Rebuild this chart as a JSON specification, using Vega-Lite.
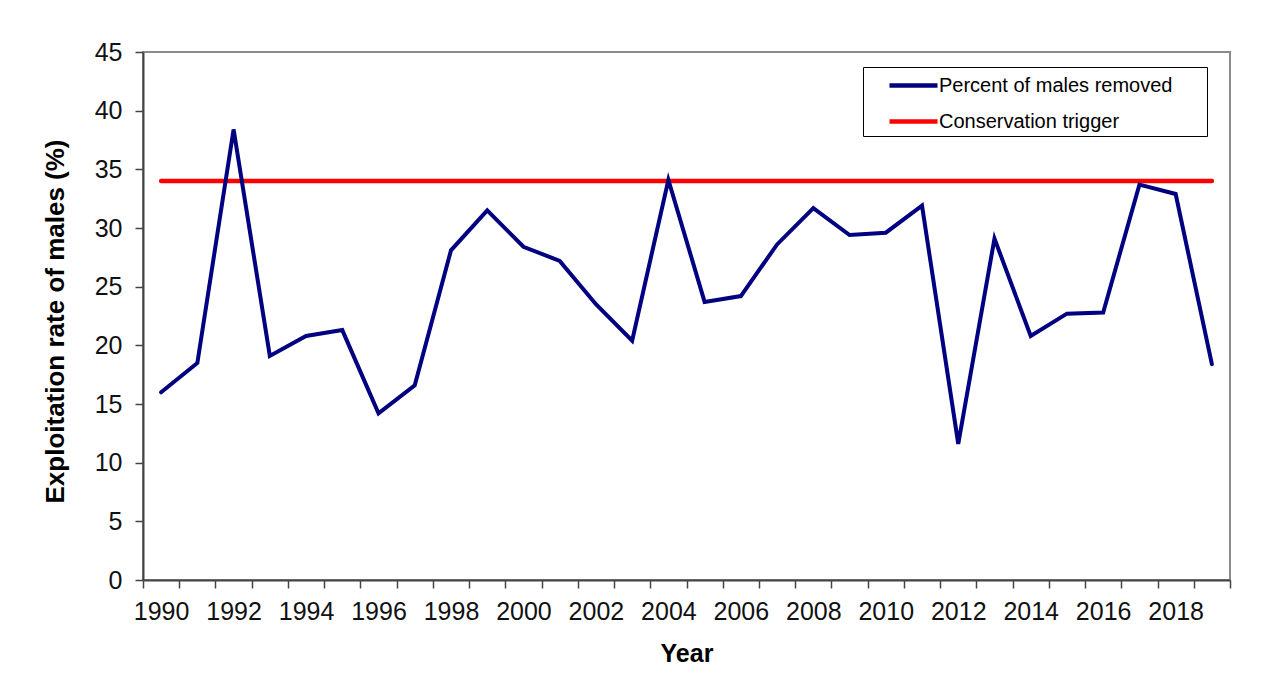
{
  "$schema": "https://vega.github.io/schema/vega-lite/v6.json",
  "width": 1087,
  "height": 528,
  "autosize": {"type": "none"},
  "padding": {"left": 143, "top": 52, "right": 44, "bottom": 107},
  "background": "white",
  "config": {
    "font": "Liberation Sans",
    "view": {"stroke": "#8c8c8c", "strokeWidth": 2}
  },
  "datasets": {
    "removed": [
      {"year": "1990", "series": "Percent of males removed", "rate": 16.0},
      {"year": "1991", "series": "Percent of males removed", "rate": 18.5},
      {"year": "1992", "series": "Percent of males removed", "rate": 38.4},
      {"year": "1993", "series": "Percent of males removed", "rate": 19.1},
      {"year": "1994", "series": "Percent of males removed", "rate": 20.8},
      {"year": "1995", "series": "Percent of males removed", "rate": 21.3},
      {"year": "1996", "series": "Percent of males removed", "rate": 14.2},
      {"year": "1997", "series": "Percent of males removed", "rate": 16.6},
      {"year": "1998", "series": "Percent of males removed", "rate": 28.1},
      {"year": "1999", "series": "Percent of males removed", "rate": 31.5},
      {"year": "2000", "series": "Percent of males removed", "rate": 28.4},
      {"year": "2001", "series": "Percent of males removed", "rate": 27.2},
      {"year": "2002", "series": "Percent of males removed", "rate": 23.5},
      {"year": "2003", "series": "Percent of males removed", "rate": 20.4},
      {"year": "2004", "series": "Percent of males removed", "rate": 34.1},
      {"year": "2005", "series": "Percent of males removed", "rate": 23.7},
      {"year": "2006", "series": "Percent of males removed", "rate": 24.2},
      {"year": "2007", "series": "Percent of males removed", "rate": 28.6},
      {"year": "2008", "series": "Percent of males removed", "rate": 31.7},
      {"year": "2009", "series": "Percent of males removed", "rate": 29.4},
      {"year": "2010", "series": "Percent of males removed", "rate": 29.6},
      {"year": "2011", "series": "Percent of males removed", "rate": 31.9},
      {"year": "2012", "series": "Percent of males removed", "rate": 11.6},
      {"year": "2013", "series": "Percent of males removed", "rate": 29.1},
      {"year": "2014", "series": "Percent of males removed", "rate": 20.8},
      {"year": "2015", "series": "Percent of males removed", "rate": 22.7},
      {"year": "2016", "series": "Percent of males removed", "rate": 22.8},
      {"year": "2017", "series": "Percent of males removed", "rate": 33.7},
      {"year": "2018", "series": "Percent of males removed", "rate": 32.9},
      {"year": "2019", "series": "Percent of males removed", "rate": 18.4}
    ],
    "trigger": [
      {"year": "1990", "series": "Conservation trigger", "rate": 34},
      {"year": "2019", "series": "Conservation trigger", "rate": 34}
    ]
  },
  "encoding": {
    "x": {
      "field": "year",
      "type": "ordinal",
      "scale": {
        "type": "band",
        "domain": ["1990","1991","1992","1993","1994","1995","1996","1997","1998","1999","2000","2001","2002","2003","2004","2005","2006","2007","2008","2009","2010","2011","2012","2013","2014","2015","2016","2017","2018","2019"],
        "paddingInner": 0,
        "paddingOuter": 0
      },
      "axis": {
        "title": "Year",
        "titleFontSize": 25,
        "titleFontWeight": "bold",
        "titleColor": "#000",
        "titlePadding": 17,
        "labelAngle": 0,
        "labelFontSize": 25,
        "labelColor": "#111",
        "labelPadding": 11,
        "labelExpr": "toNumber(datum.value) % 2 == 0 ? datum.label : ''",
        "tickBand": "extent",
        "tickSize": 8,
        "tickColor": "#444",
        "tickWidth": 1.5,
        "domainColor": "#444",
        "domainWidth": 2,
        "grid": false
      }
    },
    "y": {
      "field": "rate",
      "type": "quantitative",
      "scale": {"domain": [0, 45]},
      "axis": {
        "title": "Exploitation  rate of males (%)",
        "titleFontSize": 26,
        "titleFontWeight": "bold",
        "titleColor": "#000",
        "titlePadding": 26,
        "titleY": 269,
        "values": [0, 5, 10, 15, 20, 25, 30, 35, 40, 45],
        "labelFontSize": 25,
        "labelColor": "#111",
        "labelPadding": 13,
        "tickSize": 8,
        "tickColor": "#444",
        "tickWidth": 1.5,
        "domainColor": "#444",
        "domainWidth": 2,
        "grid": false
      }
    },
    "color": {
      "field": "series",
      "type": "nominal",
      "scale": {
        "domain": ["Percent of males removed", "Conservation trigger"],
        "range": ["#000080", "#ff0000"]
      },
      "legend": {
        "title": null,
        "orient": "none",
        "legendX": 720,
        "legendY": 15,
        "symbolType": "M-2,0L2,0",
        "symbolSize": 576,
        "symbolStrokeWidth": 4.5,
        "symbolOffset": 32,
        "labelFontSize": 20,
        "labelColor": "#000",
        "labelOffset": 11,
        "labelLimit": 400,
        "labelExpr": "datum.label + '\u2800\u2800'",
        "rowPadding": 11,
        "padding": 4,
        "strokeColor": "#000",
        "fillColor": "white"
      }
    }
  },
  "layer": [
    {
      "data": {"name": "trigger"},
      "mark": {"type": "line", "strokeWidth": 4.5, "strokeCap": "round"}
    },
    {
      "data": {"name": "removed"},
      "mark": {"type": "line", "strokeWidth": 4, "strokeJoin": "miter", "strokeCap": "round"}
    }
  ]
}
